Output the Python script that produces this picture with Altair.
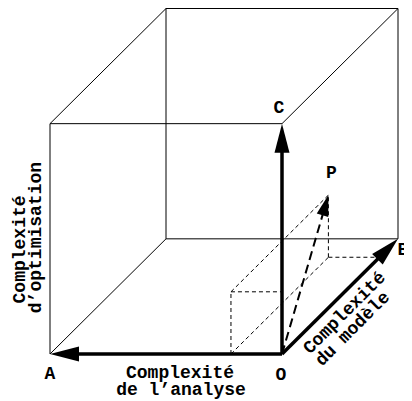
import math
import altair as alt
import pandas as pd

# ---------------- diagram values ----------------
# unit cube, coordinates = (analyse, modele, optimisation)
vertex_names = ["O", "A", "B", "C", "AB", "AC", "BC", "ABC", "P", "Pa", "Pb", "Pc", "Pab", "Pac"]
vertex_analyse = [0, 1, 0, 0, 1, 1, 0, 1, 0.22, 0.22, 0, 0, 0.22, 0.22]
vertex_modele = [0, 0, 1, 0, 1, 0, 1, 1, 0.84, 0, 0.84, 0, 0.84, 0]
vertex_optim = [0, 0, 0, 1, 0, 1, 1, 1, 0.27, 0, 0, 0.27, 0, 0.27]

cube_edge_from = ["A", "AC", "AC", "C", "A", "AB", "ABC", "BC", "AB"]
cube_edge_to = ["AC", "C", "ABC", "BC", "AB", "ABC", "BC", "B", "B"]
axis_arrow_to = ["A", "B", "C"]
guide_from = ["Pa", "Pac", "Pa", "Pac", "Pab", "Pab"]
guide_to = ["Pac", "Pc", "Pab", "P", "P", "Pb"]
vector_to = ["P"]

point_label_text = ["A", "B", "C", "O", "P"]
title_analyse = ["Complexité", "de l’analyse"]
title_optim = ["Complexité", "d’optimisation"]
title_modele = ["Complexité", "du modèle"]

# ---------------- layout / style ----------------
W, H = 396, 393
SX, SY = 232.0, 230.33
OX, OY = 274.0, 346.0
FONT = "Liberation Mono"
FS = 18

xs = alt.Scale(domain=[-OX / SX, (W - OX) / SX], nice=False, zero=False)
ys = alt.Scale(domain=[(OY - H) / SY, OY / SY], nice=False, zero=False)

# oblique (cabinet) projection
v = pd.DataFrame({"name": vertex_names, "a": vertex_analyse,
                  "m": vertex_modele, "o": vertex_optim})
v["X"] = -v["a"] + 0.5 * v["m"]
v["Y"] = v["o"] + 0.5 * v["m"]
pos = v.set_index("name")[["X", "Y"]]


def mid(p, q, name):
    return {"name": name, "X": (pos.loc[p, "X"] + pos.loc[q, "X"]) / 2,
            "Y": (pos.loc[p, "Y"] + pos.loc[q, "Y"]) / 2}


anchors = pd.concat([v[["name", "X", "Y"]],
                     pd.DataFrame([mid("O", "A", "mid_OA"), mid("O", "B", "mid_OB"),
                                   mid("A", "AC", "mid_AAC")])], ignore_index=True)


def segments(frm, to):
    return pd.DataFrame({"x": [pos.loc[f, "X"] for f in frm], "y": [pos.loc[f, "Y"] for f in frm],
                         "x2": [pos.loc[t, "X"] for t in to], "y2": [pos.loc[t, "Y"] for t in to]})


def arrows(frm, to, head_len):
    seg = segments(frm, to)
    dxp = (seg["x2"] - seg["x"]) * SX
    dyp = (seg["y2"] - seg["y"]) * SY
    ln = (dxp ** 2 + dyp ** 2) ** 0.5
    back = head_len - 4
    shaft = seg.copy()
    shaft["x2"] = seg["x2"] - dxp / ln * back / SX
    shaft["y2"] = seg["y2"] - dyp / ln * back / SY
    heads = pd.DataFrame({"x": seg["x2"], "y": seg["y2"],
                          "ang": [(math.degrees(math.atan2(a, b)) + 360) % 360 for a, b in zip(dxp, dyp)]})
    return shaft, heads


def rule_layer(df, width, dash=None):
    kw = dict(color="black", strokeWidth=width)
    if dash:
        kw["strokeDash"] = dash
    return alt.Chart(df).mark_rule(**kw).encode(
        x=alt.X("x:Q", scale=xs, axis=None), y=alt.Y("y:Q", scale=ys, axis=None),
        x2="x2:Q", y2="y2:Q")


def head_layer(df, length, half):
    shape = f"M0,0L{-half},{length}L{half},{length}Z"
    return alt.Chart(df).mark_point(shape=shape, size=4, filled=True, opacity=1,
                                    color="black", strokeWidth=0).encode(
        x=alt.X("x:Q", scale=xs, axis=None), y=alt.Y("y:Q", scale=ys, axis=None),
        angle=alt.Angle("ang:Q", scale=None))


layers = []
layers.append(rule_layer(segments(cube_edge_from, cube_edge_to), 1))
layers.append(rule_layer(segments(guide_from, guide_to), 1, [4, 3]))

shaft_axes, heads_axes = arrows(["O"] * 3, axis_arrow_to, 29)
layers.append(rule_layer(shaft_axes, 3.5))
layers.append(head_layer(heads_axes, 29, 7.5))

shaft_p, heads_p = arrows(["O"], vector_to, 21)
layers.append(rule_layer(shaft_p, 2, [9, 5]))
layers.append(head_layer(heads_p, 21, 6))


def text_layer(text, anchor, dx, dy, angle=0):
    return alt.Chart(anchors).transform_filter(alt.datum.name == anchor).mark_text(
        text=text, dx=dx, dy=dy, angle=angle, font=FONT, fontSize=FS, fontWeight="bold",
        align="center", baseline="alphabetic", color="black").encode(
        x=alt.X("X:Q", scale=xs, axis=None), y=alt.Y("Y:Q", scale=ys, axis=None))


label_offsets = {"A": (0, 25), "B": (5, 16), "C": (-3, -11), "O": (-1, 26), "P": (3, -17)}
for t in point_label_text:
    dx, dy = label_offsets[t]
    layers.append(text_layer(t, t, dx, dy))

layers.append(text_layer(title_analyse[0], "mid_OA", 14, 24))
layers.append(text_layer(title_analyse[1], "mid_OA", 15, 41))
layers.append(text_layer(title_optim[0], "mid_AAC", -10.6, -25, 270))
layers.append(text_layer(title_optim[1], "mid_AAC", 1.3, -9, 270))
layers.append(text_layer(title_modele[0], "mid_OB", -8.5, 20, 315))
layers.append(text_layer(title_modele[1], "mid_OB", -14, 37, 315))

chart = alt.layer(*layers).properties(
    width=W, height=H, padding=0, autosize=alt.AutoSizeParams(type="none"),
    background="white").configure_view(stroke=None)

chart.save("out.html", embed_options={"renderer": "svg", "actions": False})
